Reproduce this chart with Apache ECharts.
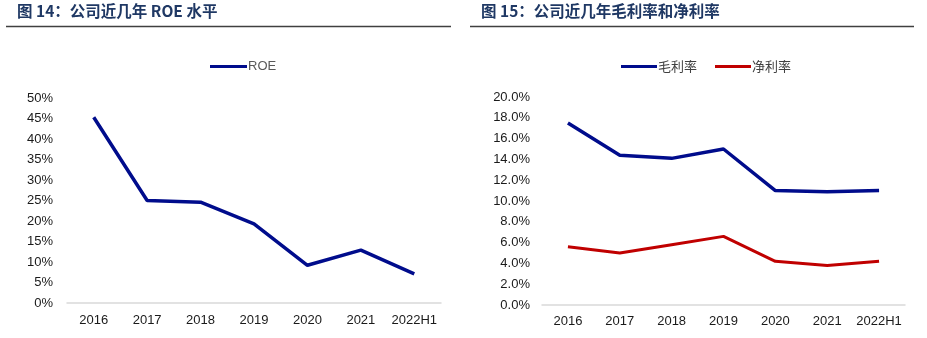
<!DOCTYPE html>
<html><head><meta charset="utf-8">
<script src="https://cdn.jsdelivr.net/npm/echarts@6/dist/echarts.min.js"></script>
<style>html,body{margin:0;padding:0;background:#fff}#c{width:927px;height:338px}</style>
</head><body><div id="c"></div>
<script>
const categories = ['2016','2017','2018','2019','2020','2021','2022H1'];
const roe = [45.3, 25.0, 24.6, 19.3, 9.2, 12.9, 7.1];
const grossMargin = [17.5, 14.4, 14.1, 15.0, 11.0, 10.9, 11.0];
const netMargin = [5.6, 5.0, 5.8, 6.6, 4.2, 3.8, 4.2];
const leftTicks = [0,5,10,15,20,25,30,35,40,45,50];
const rightTicks = [0,2,4,6,8,10,12,14,16,18,20];
const titleLeft = '图 14：公司近几年 ROE 水平';
const titleRight = '图 15：公司近几年毛利率和净利率';

const chart = echarts.init(document.getElementById('c'));
const navy = '#000C8C', red = '#C00000';
const labelFont = {fontFamily:'Liberation Sans, Arial', fontSize:13, color:'#1a1a1a'};
chart.setOption({
  animation:false,
  textStyle:{fontFamily:'Liberation Sans, Arial'},
  graphic:[
    {type:'text', left:17, top:3, style:{text:titleLeft, font:'bold 15.5px "Noto Sans CJK SC", sans-serif', fill:'#1F3864'}},
    {type:'text', left:481, top:3, style:{text:titleRight, font:'bold 15.5px "Noto Sans CJK SC", sans-serif', fill:'#1F3864'}},
    {type:'line', shape:{x1:6,y1:26.5,x2:451,y2:26.5}, style:{stroke:'#404040', lineWidth:1.5}},
    {type:'line', shape:{x1:470,y1:26.5,x2:914,y2:26.5}, style:{stroke:'#404040', lineWidth:1.5}}
  ],
  legend:[
    {left:205, top:55, itemWidth:37, itemHeight:3, icon:'rect', itemGap:20,
     textStyle:{fontFamily:'Liberation Sans, Arial', fontSize:13, color:'#595959', padding:[0,0,0,-4]},
     data:[{name:'ROE', itemStyle:{color:navy}}]},
    {left:616, top:55, itemWidth:36, itemHeight:3, icon:'rect', itemGap:18,
     textStyle:{fontFamily:'"Noto Sans CJK SC", sans-serif', fontSize:13, color:'#404040', padding:[0,0,0,-4]},
     data:[{name:'毛利率', itemStyle:{color:navy}},{name:'净利率', itemStyle:{color:red}}]}
  ],
  grid:[
    {left:67, right:486, top:98, bottom:35},
    {left:542, right:22, top:97, bottom:33}
  ],
  xAxis:[
    {type:'category', gridIndex:0, data:categories, boundaryGap:true,
     axisLine:{lineStyle:{color:'#D9D9D9', width:1.5}}, axisTick:{show:false},
     axisLabel:Object.assign({margin:11, interval:0}, labelFont)},
    {type:'category', gridIndex:1, data:categories, boundaryGap:true,
     axisLine:{lineStyle:{color:'#D9D9D9', width:1.5}}, axisTick:{show:false},
     axisLabel:Object.assign({margin:10, interval:0}, labelFont)}
  ],
  yAxis:[
    {type:'value', gridIndex:0, min:leftTicks[0], max:leftTicks[leftTicks.length-1], interval:5,
     splitLine:{show:false}, axisLine:{show:false}, axisTick:{show:false},
     axisLabel:Object.assign({margin:14, formatter:v=>v+'%'}, labelFont)},
    {type:'value', gridIndex:1, min:rightTicks[0], max:rightTicks[rightTicks.length-1], interval:2,
     splitLine:{show:false}, axisLine:{show:false}, axisTick:{show:false},
     axisLabel:Object.assign({margin:12, formatter:v=>v.toFixed(1)+'%'}, labelFont)}
  ],
  series:[
    {name:'ROE', type:'line', xAxisIndex:0, yAxisIndex:0, data:roe, symbol:'none',
     lineStyle:{color:navy, width:3.5}, itemStyle:{color:navy}},
    {name:'毛利率', type:'line', xAxisIndex:1, yAxisIndex:1, data:grossMargin, symbol:'none',
     lineStyle:{color:navy, width:3.5}, itemStyle:{color:navy}},
    {name:'净利率', type:'line', xAxisIndex:1, yAxisIndex:1, data:netMargin, symbol:'none',
     lineStyle:{color:red, width:3}, itemStyle:{color:red}}
  ]
});
</script></body></html>
